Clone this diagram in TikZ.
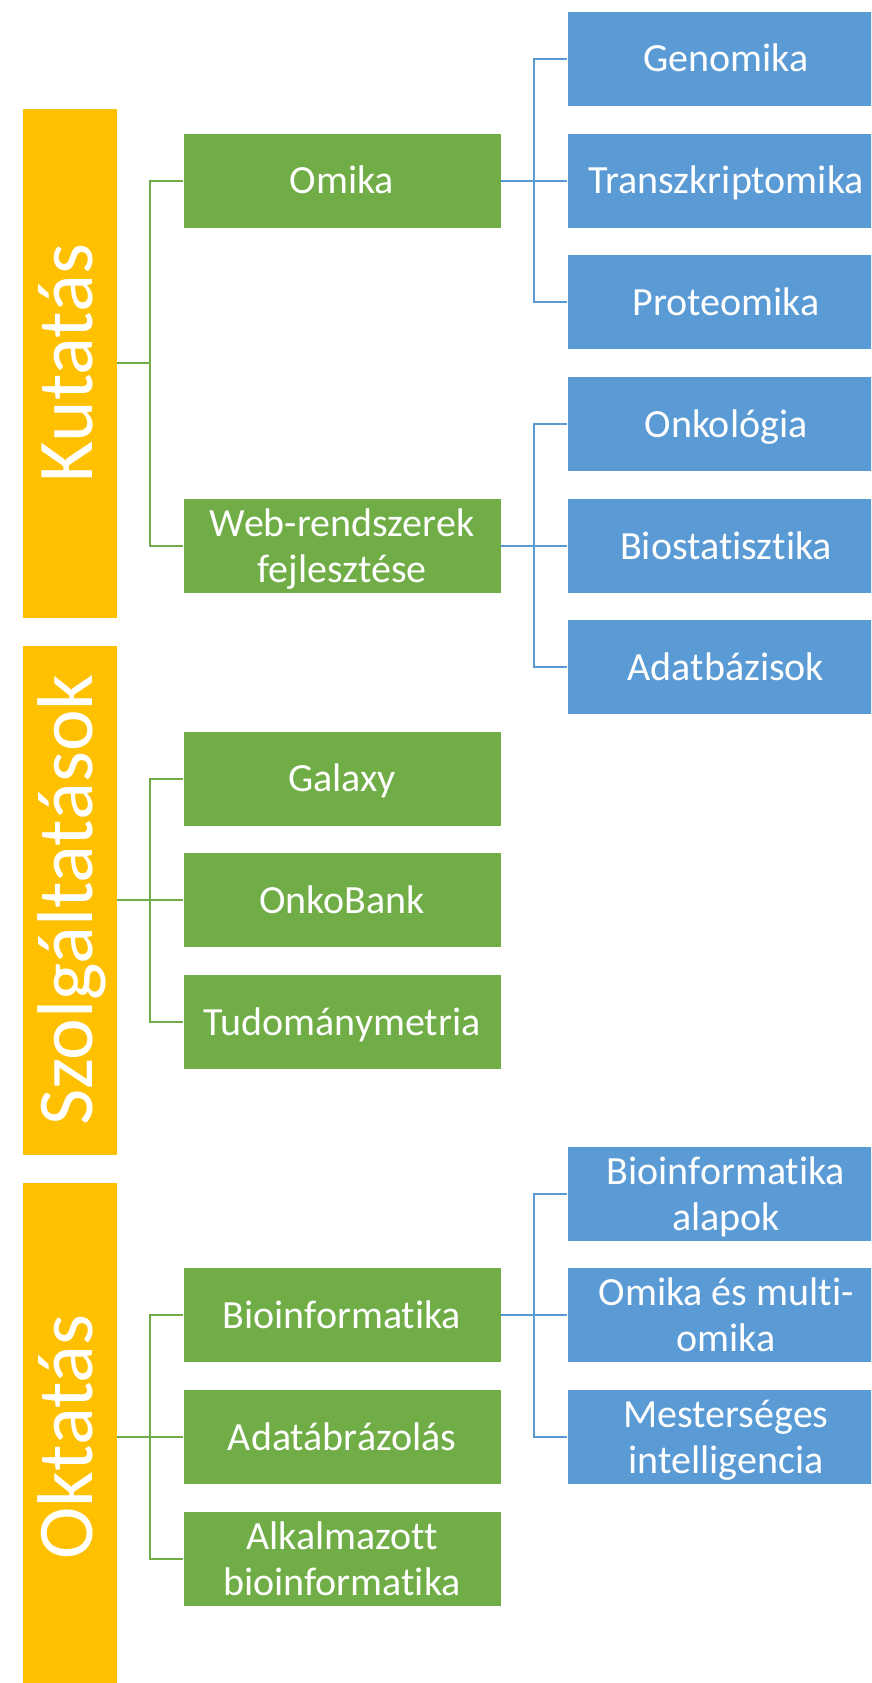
\documentclass[tikz,border=0pt]{standalone}
\usepackage{graphicx}
\usepackage{fontspec}
\setmainfont{Carlito}[Ligatures=NoCommon]
\definecolor{cyel}{HTML}{FFC000}
\definecolor{cgrn}{HTML}{70AD47}
\definecolor{cblu}{HTML}{5B9BD5}
\newcommand\twol[2]{\begin{tabular}[t]{@{}c@{}}#1\\#2\end{tabular}}
\newcommand\vlab[1]{\rotatebox{90}{\rule[-15pt]{0pt}{75pt}#1}}
\tikzset{
  box/.style={minimum width=318pt, minimum height=95pt, inner sep=0pt, draw=white, line width=0.8pt,
    text=white, font=\fontsize{40}{46}\selectfont, text height=30pt, text depth=4pt},
  gbox/.style={box, fill=cgrn},
  bbox/.style={box, fill=cblu},
  two/.style={text height=30pt, text depth=50pt},
  bar/.style={fill=cyel, draw=white, line width=0.8pt, minimum width=95pt, minimum height=510pt,
    inner sep=0pt, text=white, font=\fontsize{79}{90}\selectfont},
  gline/.style={draw=cgrn, line width=2pt},
  bline/.style={draw=cblu, line width=2pt}
}
\begin{document}
\begin{tikzpicture}[x=1pt,y=-1pt]
\useasboundingbox (0,0) rectangle (871,1683);
\clip (0,0) rectangle (871,1683);
% bars
\node[bar] (kut)   at (69.5,363)  {\vlab{Kutatás}};
\node[bar] (szolg) at (69.5,900)  {\vlab{Szolgáltatások}};
\node[bar] (okt)   at (69.5,1437) {\vlab{Oktatás}};
% green boxes
\node[gbox] (omika)    at (342,180.5) {Omika};
\node[gbox,two] (web)  at (342,546)   {\twol{Web-rendszerek}{fejlesztése}};
\node[gbox] (galaxy)   at (342,778.5) {Galaxy};
\node[gbox] (onkobank) at (342,900)   {OnkoBank};
\node[gbox] (tudo)     at (342,1022)  {Tudománymetria};
\node[gbox] (bioinf)   at (342,1315)  {Bioinformatika};
\node[gbox] (adat)     at (342,1437)  {Adatábrázolás};
\node[gbox,two] (alk)  at (342,1559)  {\twol{Alkalmazott}{bioinformatika}};
% blue boxes
\node[bbox] (genom)   at (726,59)    {Genomika};
\node[bbox] (transz)  at (726,180.5) {Transzkriptomika};
\node[bbox] (proteo)  at (726,302)   {Proteomika};
\node[bbox] (onkol)   at (726,424)   {Onkológia};
\node[bbox] (biostat) at (726,546)   {Biostatisztika};
\node[bbox] (adatb)   at (726,667)   {Adatbázisok};
\node[bbox,two] (balap)  at (726,1194) {\twol{Bioinformatika}{alapok}};
\node[bbox,two] (omulti) at (726,1315) {\twol{Omika és multi-}{omika}};
\node[bbox,two] (mest)   at (726,1437) {\twol{Mesterséges}{intelligencia}};
% green connectors
\draw[gline] (kut.east) -- ++(33,0) coordinate (kt);
\draw[gline] (omika.west) -| (kt);
\draw[gline] (web.west) -| (kt);
\draw[gline] (szolg.east) -- ++(33,0) coordinate (st);
\draw[gline] (galaxy.west) -| (st);
\draw[gline] (onkobank.west) -- (st);
\draw[gline] (tudo.west) -| (st);
\draw[gline] (okt.east) -- ++(33,0) coordinate (ok);
\draw[gline] (bioinf.west) -| (ok);
\draw[gline] (adat.west) -- (ok);
\draw[gline] (alk.west) -| (ok);
% blue connectors
\draw[bline] (omika.east) -- ++(33,0) coordinate (ot);
\draw[bline] (genom.west) -| (ot);
\draw[bline] (transz.west) -- (ot);
\draw[bline] (proteo.west) -| (ot);
\draw[bline] (web.east) -- ++(33,0) coordinate (wt);
\draw[bline] (onkol.west) -| (wt);
\draw[bline] (biostat.west) -- (wt);
\draw[bline] (adatb.west) -| (wt);
\draw[bline] (bioinf.east) -- ++(33,0) coordinate (bt);
\draw[bline] (balap.west) -| (bt);
\draw[bline] (omulti.west) -- (bt);
\draw[bline] (mest.west) -| (bt);
\end{tikzpicture}
\end{document}
